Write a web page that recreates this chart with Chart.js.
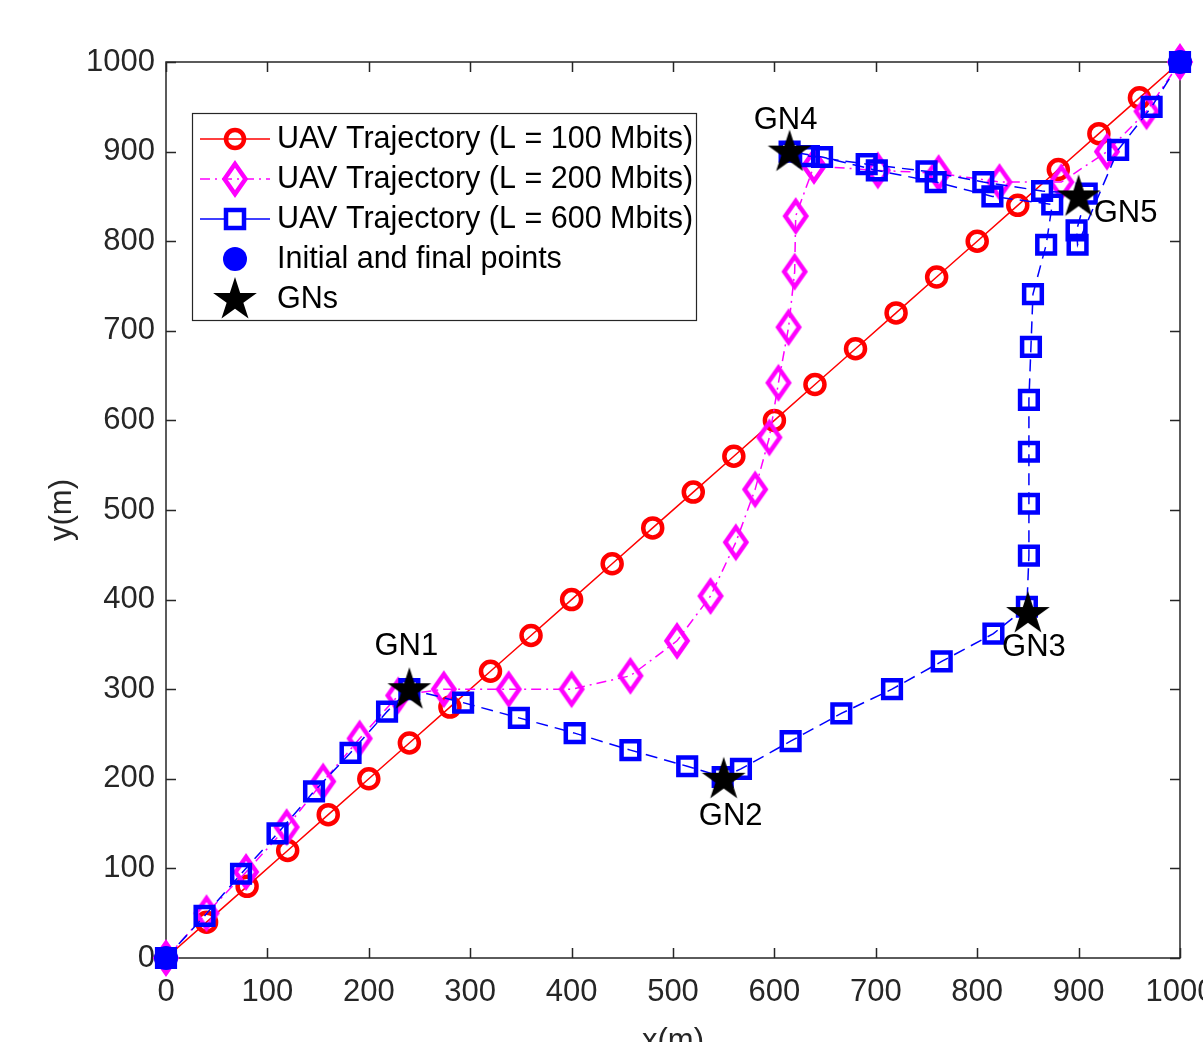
<!DOCTYPE html>
<html>
<head>
<meta charset="utf-8">
<script src="https://cdn.jsdelivr.net/npm/chart.js@4.4.0/dist/chart.umd.min.js"></script>
<style>
    html, body { margin: 0; padding: 0; overflow: hidden; background: #fff; }
    #wrap { position: absolute; left: 0; top: 0; width: 1230px; height: 1060px; }
</style>
</head>
<body>
<div id="wrap"><canvas id="trajChart"></canvas></div>
<script>
// axis ticks
const xTicks = [0, 100, 200, 300, 400, 500, 600, 700, 800, 900, 1000];
const yTicks = [0, 100, 200, 300, 400, 500, 600, 700, 800, 900, 1000];

// UAV trajectory, L = 100 Mbits
const redX = [0, 40, 80, 120, 160, 200, 240, 280, 320, 360, 400, 440, 480, 520, 560, 600, 640, 680, 720, 760, 800, 840, 880, 920, 960, 1000];
const redY = [0, 40, 80, 120, 160, 200, 240, 280, 320, 360, 400, 440, 480, 520, 560, 600, 640, 680, 720, 760, 800, 840, 880, 920, 960, 1000];

// UAV trajectory, L = 200 Mbits
const magX = [0, 40, 79, 119, 155, 191, 229, 274, 338, 400, 458, 504, 537, 562, 581, 595, 604, 614, 620, 621, 639, 702, 762, 822, 883, 928, 967, 1000];
const magY = [0, 50, 96, 146, 197, 245, 293, 300, 300, 300, 315, 354, 404, 464, 523, 581, 642, 704, 766, 828, 884, 879, 876, 866, 866, 900, 945, 1000];

// UAV trajectory, L = 600 Mbits
const blueX = [0, 38, 74, 110, 146, 182, 218, 240, 293, 348, 403, 458, 514, 549, 567, 616, 666, 716, 765, 816, 849, 851, 851, 851, 851, 853, 855, 868, 874, 815, 759, 701, 647, 615, 634, 691, 750, 806, 864, 908, 898, 899, 939, 972, 1000];
const blueY = [0, 47, 94, 139, 186, 229, 275, 300, 285, 268, 251, 232, 214, 202, 211, 242, 273, 300, 331, 362, 392, 449, 507, 565, 623, 682, 741, 796, 841, 850, 866, 879, 894, 900, 895, 886, 878, 866, 856, 853, 812, 796, 902, 950, 1000];

// start / end
const endX = [0, 1000];
const endY = [0, 1000];

// ground nodes
const gnNames = ['GN1', 'GN2', 'GN3', 'GN4', 'GN5'];
const gnX = [240, 550, 850, 615, 900];
const gnY = [300, 200, 385, 900, 850];

const seriesNames = [
    'UAV Trajectory (L = 100 Mbits)',
    'UAV Trajectory (L = 200 Mbits)',
    'UAV Trajectory (L = 600 Mbits)',
    'Initial and final points',
    'GNs'
];

function toPoints(xs, ys) {
    return xs.map((x, i) => ({ x: x, y: ys[i] }));
}

// marker images (MATLAB style diamond and pentagram)
function makeDiamond() {
    const c = document.createElement('canvas');
    c.width = 32; c.height = 40;
    const g = c.getContext('2d');
    g.strokeStyle = '#ff00ff';
    g.lineWidth = 4.5;
    g.lineJoin = 'miter';
    g.beginPath();
    g.moveTo(16, 5); g.lineTo(26.5, 20); g.lineTo(16, 35); g.lineTo(5.5, 20);
    g.closePath();
    g.stroke();
    return c;
}

function makeStar() {
    const c = document.createElement('canvas');
    c.width = 50; c.height = 50;
    const g = c.getContext('2d');
    const R = 23, r = R * 0.382;
    g.fillStyle = '#000';
    g.beginPath();
    for (let i = 0; i < 10; i++) {
        const rad = i % 2 === 0 ? R : r;
        const a = -Math.PI / 2 + i * Math.PI / 5;
        const px = 25 + rad * Math.cos(a), py = 26 + rad * Math.sin(a);
        if (i === 0) g.moveTo(px, py); else g.lineTo(px, py);
    }
    g.closePath();
    g.fill();
    return c;
}

const diamondImg = makeDiamond();
const starImg = makeStar();

const FONT = 'Liberation Sans, Arial, Helvetica, sans-serif';

// box with inward ticks, like MATLAB "box on"
const framePlugin = {
    id: 'frame',
    beforeDatasetsDraw(chart) {
        const { ctx, chartArea: a, scales } = chart;
        ctx.save();
        ctx.strokeStyle = '#262626';
        ctx.lineWidth = 1.5;
        ctx.strokeRect(a.left, a.top, a.right - a.left, a.bottom - a.top);
        ctx.beginPath();
        xTicks.forEach(v => {
            const px = Math.round(scales.x.getPixelForValue(v)) + 0.5;
            ctx.moveTo(px, a.bottom); ctx.lineTo(px, a.bottom - 10);
            ctx.moveTo(px, a.top); ctx.lineTo(px, a.top + 10);
        });
        yTicks.forEach(v => {
            const py = Math.round(scales.y.getPixelForValue(v)) + 0.5;
            ctx.moveTo(a.left, py); ctx.lineTo(a.left + 10, py);
            ctx.moveTo(a.right, py); ctx.lineTo(a.right - 10, py);
        });
        ctx.stroke();
        ctx.restore();
    }
};

// GN text labels next to the stars
const gnLabelShift = [[-3, -43], [7, 38], [6, 34], [-4, -31], [47, 17]];
const gnLabelPlugin = {
    id: 'gnLabels',
    afterDatasetsDraw(chart) {
        const { ctx, scales } = chart;
        ctx.save();
        ctx.font = '31px ' + FONT;
        ctx.fillStyle = '#000';
        ctx.textAlign = 'center';
        ctx.textBaseline = 'middle';
        gnNames.forEach((name, i) => {
            const px = scales.x.getPixelForValue(gnX[i]) + gnLabelShift[i][0];
            const py = scales.y.getPixelForValue(gnY[i]) + gnLabelShift[i][1];
            ctx.fillText(name, px, py);
        });
        ctx.restore();
    }
};

// legend box inside the axes (north-west)
const legendPlugin = {
    id: 'insideLegend',
    afterDraw(chart) {
        const ctx = chart.ctx;
        const left = 192, top = 113, w = 504, h = 207;
        ctx.save();
        ctx.fillStyle = '#fff';
        ctx.fillRect(left, top, w, h);
        ctx.strokeStyle = '#262626';
        ctx.lineWidth = 1.2;
        ctx.strokeRect(left + 0.5, top + 0.5, w, h);

        const rowY = [139, 179, 219, 259, 299];
        const mx = 235;
        // line samples
        const lines = [
            { color: '#ff0000', dash: [] },
            { color: '#ff00ff', dash: [10, 5, 2, 5] },
            { color: '#0000ff', dash: [] }
        ];
        lines.forEach((l, i) => {
            ctx.strokeStyle = l.color;
            ctx.lineWidth = 1.5;
            ctx.setLineDash(l.dash);
            ctx.beginPath();
            ctx.moveTo(200, rowY[i]); ctx.lineTo(270, rowY[i]);
            ctx.stroke();
        });
        ctx.setLineDash([]);
        // circle
        ctx.strokeStyle = '#ff0000'; ctx.lineWidth = 4.5;
        ctx.beginPath(); ctx.arc(mx, rowY[0], 9, 0, Math.PI * 2); ctx.stroke();
        // diamond
        ctx.drawImage(diamondImg, mx - diamondImg.width / 2, rowY[1] - diamondImg.height / 2);
        // square
        ctx.fillStyle = '#fff';
        ctx.fillRect(mx - 9, rowY[2] - 9, 18, 18);
        ctx.strokeStyle = '#0000ff'; ctx.lineWidth = 4.5;
        ctx.strokeRect(mx - 9, rowY[2] - 9, 18, 18);
        // filled dot
        ctx.fillStyle = '#0000ff';
        ctx.beginPath(); ctx.arc(mx, rowY[3], 12, 0, Math.PI * 2); ctx.fill();
        // star
        ctx.drawImage(starImg, mx - starImg.width / 2, rowY[4] - starImg.height / 2);

        ctx.font = '30.5px ' + FONT;
        ctx.fillStyle = '#000';
        ctx.textAlign = 'left';
        ctx.textBaseline = 'middle';
        seriesNames.forEach((t, i) => ctx.fillText(t, 277, rowY[i] + 1));
        ctx.restore();
    }
};

const ctx = document.getElementById('trajChart').getContext('2d');
window.trajChart = new Chart(ctx, {
    type: 'scatter',
    data: {
        datasets: [
            {
                label: seriesNames[4],
                data: toPoints(gnX, gnY),
                showLine: false,
                pointStyle: starImg,
                pointRadius: 12,
                order: 0,
                clip: false
            },
            {
                label: seriesNames[3],
                data: toPoints(endX, endY),
                showLine: false,
                pointStyle: 'circle',
                pointRadius: 12,
                pointBorderWidth: 0,
                backgroundColor: '#0000ff',
                borderColor: '#0000ff',
                order: 1,
                clip: false
            },
            {
                label: seriesNames[2],
                data: toPoints(blueX, blueY),
                showLine: true,
                borderColor: '#0000ff',
                borderWidth: 1.5,
                borderDash: [12, 7],
                pointStyle: 'rect',
                pointRadius: 12.5,
                pointBorderWidth: 4.5,
                pointBorderColor: '#0000ff',
                pointBackgroundColor: 'rgba(255,255,255,0)',
                order: 2,
                clip: false
            },
            {
                label: seriesNames[1],
                data: toPoints(magX, magY),
                showLine: true,
                borderColor: '#ff00ff',
                borderWidth: 1.5,
                borderDash: [10, 5, 2, 5],
                pointStyle: diamondImg,
                pointRadius: 12,
                order: 3,
                clip: false
            },
            {
                label: seriesNames[0],
                data: toPoints(redX, redY),
                showLine: true,
                borderColor: '#ff0000',
                borderWidth: 1.5,
                pointStyle: 'circle',
                pointRadius: 9.5,
                pointBorderWidth: 4.5,
                pointBorderColor: '#ff0000',
                pointBackgroundColor: 'rgba(255,255,255,0)',
                order: 4,
                clip: false
            }
        ]
    },
    options: {
        responsive: true,
        maintainAspectRatio: false,
        animation: false,
        layout: {
            padding: { top: 62, right: 50, left: 0, bottom: 0 }
        },
        plugins: {
            legend: { display: false },
            tooltip: { enabled: false }
        },
        scales: {
            x: {
                type: 'linear',
                min: 0,
                max: 1000,
                afterBuildTicks: s => { s.ticks = xTicks.map(v => ({ value: v })); },
                afterFit: s => { s.height = 102; },
                grid: { display: false },
                border: { display: false },
                ticks: {
                    color: '#262626',
                    padding: 8,
                    maxRotation: 0,
                    callback: v => String(v),
                    font: { family: FONT, size: 31 }
                },
                title: {
                    display: true,
                    text: 'x(m)',
                    color: '#262626',
                    padding: { top: 0, bottom: 0 },
                    font: { family: FONT, size: 31 }
                }
            },
            y: {
                type: 'linear',
                min: 0,
                max: 1000,
                afterBuildTicks: s => { s.ticks = yTicks.map(v => ({ value: v })); },
                afterFit: s => { s.width = 166; },
                grid: { display: false },
                border: { display: false },
                ticks: {
                    color: '#262626',
                    padding: 3,
                    callback: v => String(v),
                    font: { family: FONT, size: 31 }
                },
                title: {
                    display: true,
                    text: 'y(m)',
                    color: '#262626',
                    padding: { top: 44, bottom: 0 },
                    font: { family: FONT, size: 31 }
                }
            }
        }
    },
    plugins: [framePlugin, gnLabelPlugin, legendPlugin]
});
</script>
</body>
</html>
